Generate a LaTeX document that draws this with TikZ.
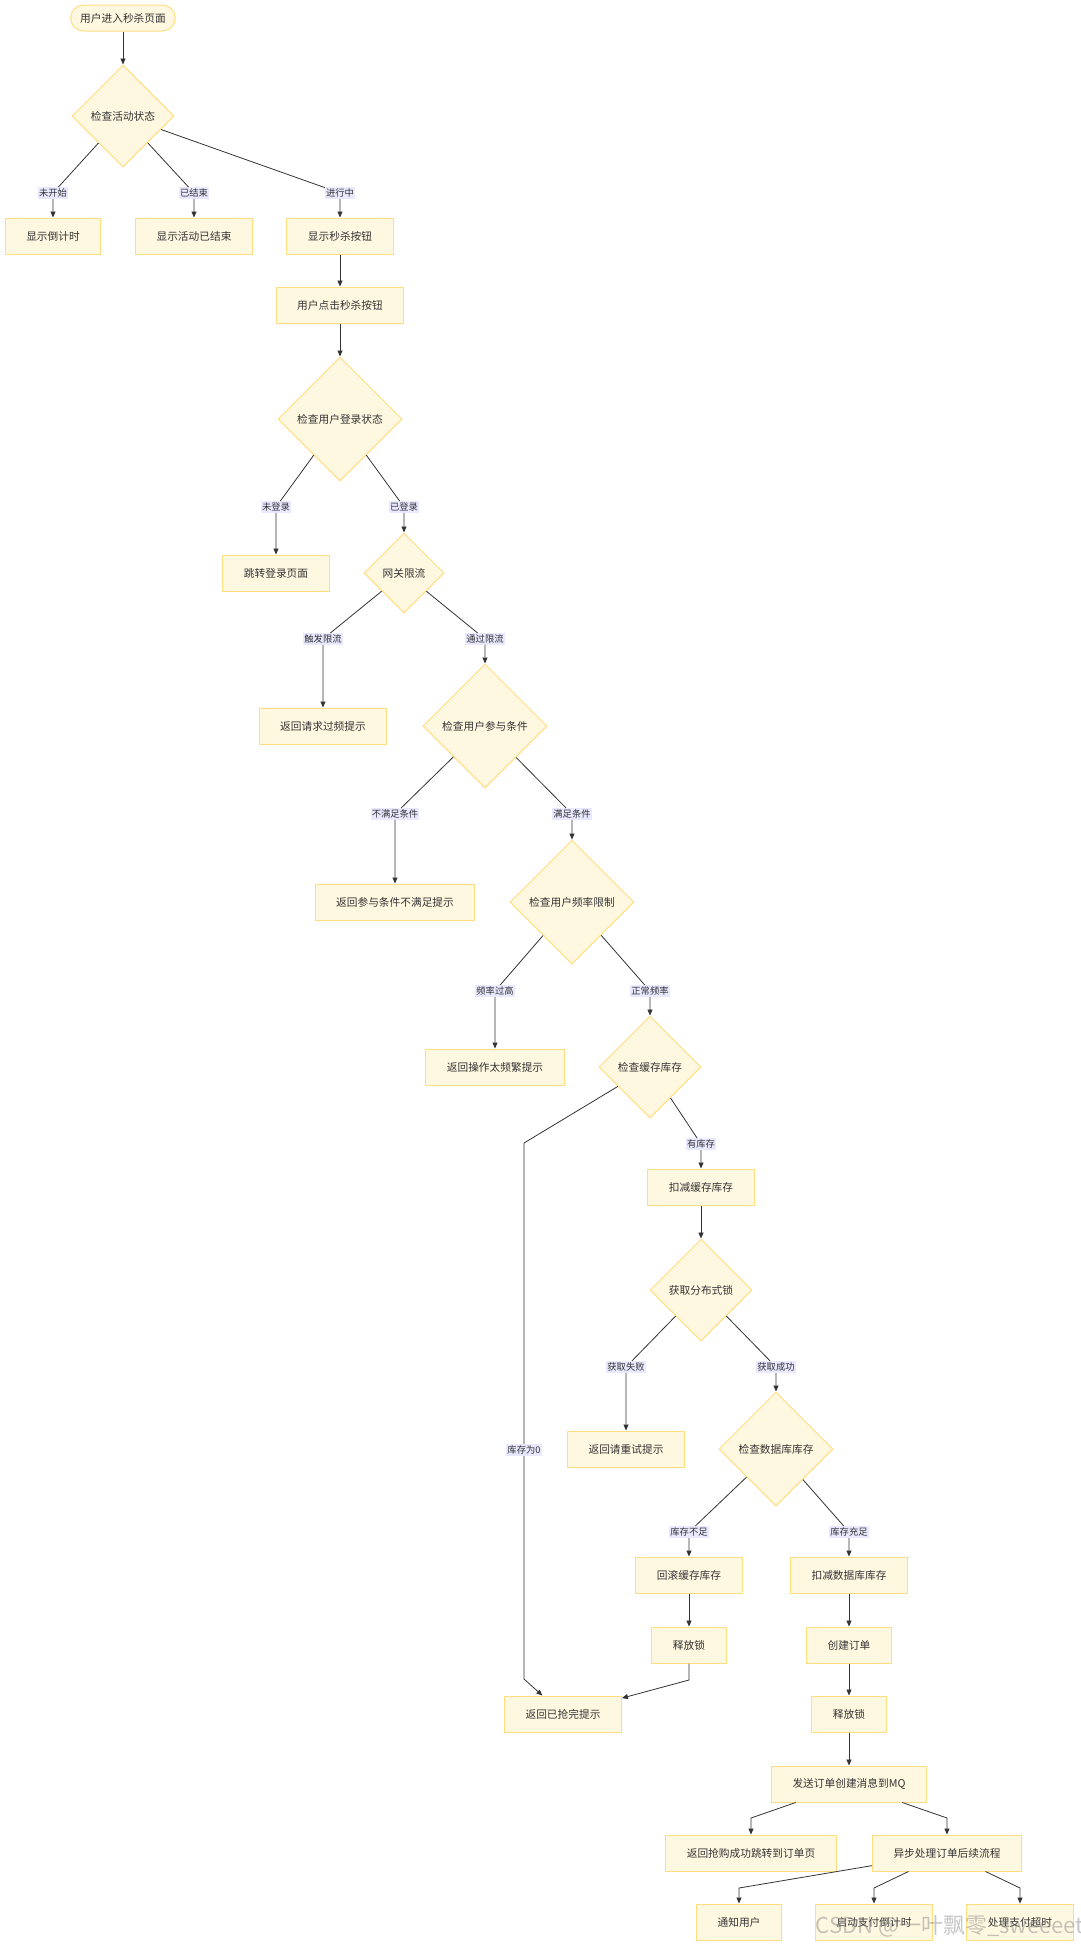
\documentclass[tikz,border=0pt]{standalone}
\usepackage{fontspec}
\usepackage{xcolor}
\usetikzlibrary{arrows.meta, shapes.geometric, positioning}
\newfontfamily\cjk{Noto Sans CJK SC}
\definecolor{boxfill}{RGB}{255,248,225}
\definecolor{boxline}{RGB}{255,222,130}
\definecolor{labelfill}{RGB}{232,232,255}
\definecolor{inkgray}{RGB}{51,51,51}

\begin{document}
\begin{tikzpicture}[x=1pt, y=-1pt,
    process/.style={rectangle, draw=boxline, fill=boxfill, line width=1pt, minimum height=36pt, inner xsep=21pt, text=inkgray, font=\cjk\fontsize{10.7}{12}\selectfont},
    terminal/.style={process, rounded corners=13pt, minimum height=26pt, inner xsep=9.5pt},
    decision/.style={diamond, aspect=1, draw=boxline, fill=boxfill, line width=1pt, inner sep=0pt, minimum size=#1, text=inkgray, font=\cjk\fontsize{10.7}{12}\selectfont},
    decision/.default=102pt,
    edgelabel/.style={fill=labelfill, inner xsep=1pt, inner ysep=1.5pt, text=inkgray, font=\cjk\fontsize{9.3}{10}\selectfont},
    flow/.style={draw=inkgray, line width=0.8pt, -{Triangle[length=6pt, width=5pt]}}
]
    \useasboundingbox (0,0) rectangle (1080,1946);

    % Activity check
    \node[terminal] (start) at (123,18) {用户进入秒杀页面};
    \node[decision=102pt] (chkAct) at (123,116) {检查活动状态};
    \node[process] (showCountdown) at (53,236) {显示倒计时};
    \node[process] (showEnded) at (194,236) {显示活动已结束};
    \node[process] (showBtn) at (340,236) {显示秒杀按钮};
    \node[process] (clickBtn) at (340,305) {用户点击秒杀按钮};

    % Login, gateway, conditions, rate
    \node[decision=124pt] (chkLogin) at (340,419) {检查用户登录状态};
    \node[process] (toLogin) at (276,573) {跳转登录页面};
    \node[decision=80pt] (gateway) at (404,573) {网关限流};
    \node[process] (tooFreq) at (323,726) {返回请求过频提示};
    \node[decision=124pt] (chkCond) at (485,726) {检查用户参与条件};
    \node[process] (condFail) at (395,902) {返回参与条件不满足提示};
    \node[decision=124pt] (chkRate) at (572,902) {检查用户频率限制};
    \node[process] (tooBusy) at (495,1067) {返回操作太频繁提示};

    % Stock and lock
    \node[decision=102pt] (chkCache) at (650,1067) {检查缓存库存};
    \node[process] (cacheDeduct) at (701,1187) {扣减缓存库存};
    \node[decision=102pt] (getLock) at (701,1290) {获取分布式锁};
    \node[process] (retry) at (626,1449) {返回请重试提示};
    \node[decision=114pt] (chkDb) at (776,1449) {检查数据库库存};
    \node[process] (rollback) at (689,1575) {回滚缓存库存};
    \node[process] (dbDeduct) at (849,1575) {扣减数据库库存};
    \node[process] (unlockA) at (689,1645) {释放锁};
    \node[process] (mkOrder) at (849,1645) {创建订单};
    \node[process] (soldOut) at (563,1714) {返回已抢完提示};
    \node[process] (unlockB) at (849,1714) {释放锁};

    % Order messages
    \node[process] (sendMq) at (849,1784) {发送订单创建消息到MQ};
    \node[process] (success) at (751,1853) {返回抢购成功跳转到订单页};
    \node[process] (async) at (947,1853) {异步处理订单后续流程};
    \node[process] (notify) at (739,1922) {通知用户};
    \node[process] (payTimer) at (874,1922) {启动支付倒计时};
    \node[process] (payTimeout) at (1020,1922) {处理支付超时};

    % Edge labels
    \node[edgelabel] (lNotStart) at (53,193) {未开始};
    \node[edgelabel] (lEnded) at (194,193) {已结束};
    \node[edgelabel] (lOngoing) at (340,193) {进行中};
    \node[edgelabel] (lNoLogin) at (276,507) {未登录};
    \node[edgelabel] (lLogin) at (404,507) {已登录};
    \node[edgelabel] (lLimited) at (323,639) {触发限流};
    \node[edgelabel] (lPassed) at (485,639) {通过限流};
    \node[edgelabel] (lUnmet) at (395,814) {不满足条件};
    \node[edgelabel] (lMet) at (572,814) {满足条件};
    \node[edgelabel] (lTooFast) at (495,991) {频率过高};
    \node[edgelabel] (lNormal) at (650,991) {正常频率};
    \node[edgelabel] (lInStock) at (701,1144) {有库存};
    \node[edgelabel] (lEmpty) at (524,1450) {库存为0};
    \node[edgelabel] (lLockFail) at (626,1367) {获取失败};
    \node[edgelabel] (lLockOk) at (776,1367) {获取成功};
    \node[edgelabel] (lShort) at (689,1532) {库存不足};
    \node[edgelabel] (lEnough) at (849,1532) {库存充足};

    % Bends
    \coordinate (emptyTop) at (524,1143);
    \coordinate (emptyLow) at (524,1679);
    \coordinate (unlockBend) at (689,1680);
    \coordinate (mqLeft) at (751,1818);
    \coordinate (mqRight) at (947,1818);
    \coordinate (toNotify) at (739,1888);
    \coordinate (toTimer) at (874,1888);
    \coordinate (toTimeout) at (1020,1888);

    % Connectors
    \draw[flow] (start) -- (chkAct);
    \draw[flow] (chkAct) -- (lNotStart) -- (showCountdown);
    \draw[flow] (chkAct) -- (lEnded) -- (showEnded);
    \draw[flow] (chkAct) -- (lOngoing) -- (showBtn);
    \draw[flow] (showBtn) -- (clickBtn);
    \draw[flow] (clickBtn) -- (chkLogin);
    \draw[flow] (chkLogin) -- (lNoLogin) -- (toLogin);
    \draw[flow] (chkLogin) -- (lLogin) -- (gateway);
    \draw[flow] (gateway) -- (lLimited) -- (tooFreq);
    \draw[flow] (gateway) -- (lPassed) -- (chkCond);
    \draw[flow] (chkCond) -- (lUnmet) -- (condFail);
    \draw[flow] (chkCond) -- (lMet) -- (chkRate);
    \draw[flow] (chkRate) -- (lTooFast) -- (tooBusy);
    \draw[flow] (chkRate) -- (lNormal) -- (chkCache);
    \draw[flow] (chkCache) -- (lInStock) -- (cacheDeduct);
    \draw[flow] (chkCache) -- (emptyTop) -- (lEmpty) -- (emptyLow) -- (soldOut);
    \draw[flow] (cacheDeduct) -- (getLock);
    \draw[flow] (getLock) -- (lLockFail) -- (retry);
    \draw[flow] (getLock) -- (lLockOk) -- (chkDb);
    \draw[flow] (chkDb) -- (lShort) -- (rollback);
    \draw[flow] (chkDb) -- (lEnough) -- (dbDeduct);
    \draw[flow] (rollback) -- (unlockA);
    \draw[flow] (unlockA) -- (unlockBend) -- (soldOut);
    \draw[flow] (dbDeduct) -- (mkOrder);
    \draw[flow] (mkOrder) -- (unlockB);
    \draw[flow] (unlockB) -- (sendMq);
    \draw[flow] (sendMq) -- (mqLeft) -- (success);
    \draw[flow] (sendMq) -- (mqRight) -- (async);
    \draw[flow] (async) -- (toNotify) -- (notify);
    \draw[flow] (async) -- (toTimer) -- (payTimer);
    \draw[flow] (async) -- (toTimeout) -- (payTimeout);

    % Watermark
    \node[text=gray, opacity=0.45, font=\cjk\fontsize{22}{24}\selectfont] (mark) at (950,1926) {CSDN @一叶飘零\_sweeeet};
\end{tikzpicture}
\end{document}
